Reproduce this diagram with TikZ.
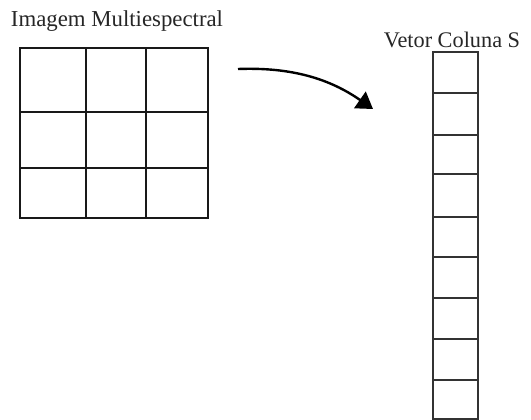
\documentclass[tikz,border=0pt]{standalone}
\usepackage{fontspec}
\setmainfont{Liberation Serif}
\usetikzlibrary{arrows.meta}
\begin{document}
\begin{tikzpicture}[x=1pt,y=-1pt,
  gridline/.style={line width=1.5pt,black!90},
  gridframe/.style={line width=2pt,black!90},
  cellline/.style={line width=1.2pt,black!80},
  caption/.style={inner sep=0pt,anchor=base,font=\fontsize{22}{26}\selectfont,text=black!85},
  flow/.style={line width=2.4pt,-{Triangle[length=16pt,width=20pt]}}]
\useasboundingbox (0,0) rectangle (531,420);

% captions
\node[caption,font=\fontsize{22.8}{27}\selectfont] (imgtitle) at (117,26.7) {Imagem Multiespectral};
\node[caption,font=\fontsize{22.3}{26}\selectfont] (vectitle) at (452,47.3) {Vetor Coluna S};

% 3x3 multispectral image grid
\coordinate (gnw) at (20,48);
\coordinate (gse) at (208,218);
\draw[gridline] (86,48) -- (86,218) (146,48) -- (146,218)
                (20,112) -- (208,112) (20,168) -- (208,168);
\draw[gridframe] (gnw) rectangle (gse);

% column vector with nine entries
\coordinate (vnw) at (433,52);
\coordinate (vse) at (478,419);
\foreach \y in {93,135,174,217,257,298,339,380}
  \draw[cellline] (433,\y) -- (478,\y);
\draw[cellline] (vnw) rectangle (vse);

% arrow from the image to the vector
\coordinate (from) at (238,69);
\coordinate (to) at (373,109);
\draw[flow] (from) .. controls (292,67) and (330,79) .. (to);
\end{tikzpicture}
\end{document}
